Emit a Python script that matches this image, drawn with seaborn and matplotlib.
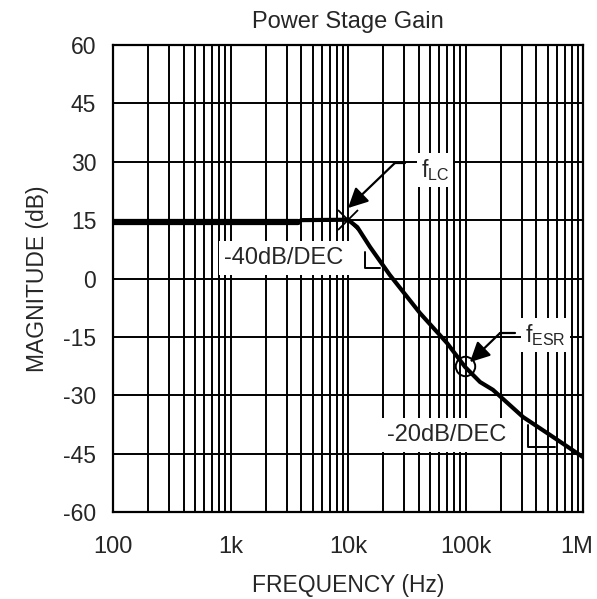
import matplotlib
matplotlib.use("Agg")
from matplotlib import pyplot as plt
from matplotlib import transforms
import seaborn as sns
import pandas as pd

# Gain curve
freq = [100, 3750, 4000, 10000, 12000, 15400, 22700, 41000, 69700, 99000, 133000, 171000, 309000, 524000, 1000000]
mag = [14.4, 14.4, 15.0, 15.1, 13.2, 8.1, 0.9, -8.9, -16.6, -22.7, -26.6, -28.6, -35.6, -40.2, -45.9]
flat_freq = [100, 3750]
flat_mag = [14.4, 14.4]

y_ticks = [-60, -45, -30, -15, 0, 15, 30, 45, 60]
x_ticks = [100, 1000, 10000, 100000, 1000000]
x_labels = ['100', '1k', '10k', '100k', '1M']

# corner markers
f_lc = (10000, 15.0)
f_esr = (99000, -22.5)

sns.set_style("white")
plt.rcParams['font.family'] = ['Liberation Sans', 'DejaVu Sans']
plt.rcParams['axes.unicode_minus'] = False

fig = plt.figure(figsize=(5.97, 5.99), dpi=100)
ax = fig.add_axes([113 / 597, 1 - 512 / 599, 470 / 597, 467 / 599])

df = pd.DataFrame({'freq': freq, 'mag': mag})
flat = pd.DataFrame({'freq': flat_freq, 'mag': flat_mag})
sns.lineplot(data=df, x='freq', y='mag', color='black', linewidth=3.0, sort=False, ax=ax, zorder=4)
sns.lineplot(data=flat, x='freq', y='mag', color='black', linewidth=4.5, sort=False, ax=ax, zorder=4)

ax.set_xscale('log')
ax.set_xlim(100, 1000000)
ax.set_ylim(-60, 60)

# grid: decades + minor 2..9, and every 15 dB
for dec in [100, 1000, 10000, 100000]:
    for m in range(1, 10):
        ax.axvline(dec * m, color='black', lw=1.4, zorder=1)
for yv in y_ticks:
    ax.axhline(yv, color='black', lw=1.4, zorder=1)

ax.set_xticks(x_ticks)
ax.set_xticklabels(x_labels)
ax.xaxis.set_minor_locator(matplotlib.ticker.NullLocator())
ax.set_yticks(y_ticks)
ax.tick_params(axis='x', labelsize=17, length=0, pad=17)
ax.tick_params(axis='y', labelsize=16.5, length=0, pad=12)
for s in ax.spines.values():
    s.set_color('black')
    s.set_linewidth(1.6)

# keep "1M" inside the figure edge
last = ax.get_xticklabels()[-1]
last.set_transform(last.get_transform() + transforms.ScaledTranslation(-6 / 100, 0, fig.dpi_scale_trans))

ax.set_title('Power Stage Gain', fontsize=17, pad=12)
ax.set_xlabel('FREQUENCY (Hz)', fontsize=16.5, labelpad=12)
ax.set_ylabel('MAGNITUDE (dB)', fontsize=16.5, labelpad=10)

# markers at fLC and fESR
ax.plot([f_lc[0]], [f_lc[1]], marker='x', markersize=15, mew=1.3, color='black', zorder=5)
ax.plot([f_esr[0]], [f_esr[1]], marker='o', markersize=14, mfc='none', mew=1.4, color='black', zorder=5)

# fLC label and arrow
ax.text(55000, 27.9, r'f$_{\mathregular{LC}}$', fontsize=16.5, ha='center', va='center',
        bbox=dict(facecolor='white', edgecolor='none', pad=3), zorder=6)
ax.plot([25100, 30500], [29.7, 29.7], color='black', lw=1.6, zorder=5)
ax.annotate('', xy=(10000, 18.1), xytext=(25100, 29.7),
            arrowprops=dict(arrowstyle='-|>', mutation_scale=30, color='black', lw=1.6,
                            shrinkA=0, shrinkB=0), zorder=5)

# fESR label and arrow
ax.text(475000, -14.5, r'f$_{\mathregular{ESR}}$', fontsize=16.5, ha='center', va='center',
        bbox=dict(facecolor='white', edgecolor='none', pad=3), zorder=6)
ax.plot([197000, 264000], [-14.0, -14.0], color='black', lw=1.6, zorder=5)
ax.annotate('', xy=(109000, -21.5), xytext=(197000, -14.0),
            arrowprops=dict(arrowstyle='-|>', mutation_scale=30, color='black', lw=1.6,
                            shrinkA=0, shrinkB=0), zorder=5)

# slope labels
ax.text(2850, 5.3, '-40dB/DEC', fontsize=17, ha='center', va='center',
        bbox=dict(facecolor='white', edgecolor='none', pad=4), zorder=6)
ax.plot([14000, 14000, 18700], [6.8, 2.7, 2.7], color='black', lw=1.4, zorder=3)
ax.text(69700, -40.2, '-20dB/DEC', fontsize=17, ha='center', va='center',
        bbox=dict(facecolor='white', edgecolor='none', pad=4), zorder=6)
ax.plot([340000, 340000, 578000], [-37.6, -43.3, -43.3], color='black', lw=1.4, zorder=3)

fig.savefig('out.png', dpi=100)
